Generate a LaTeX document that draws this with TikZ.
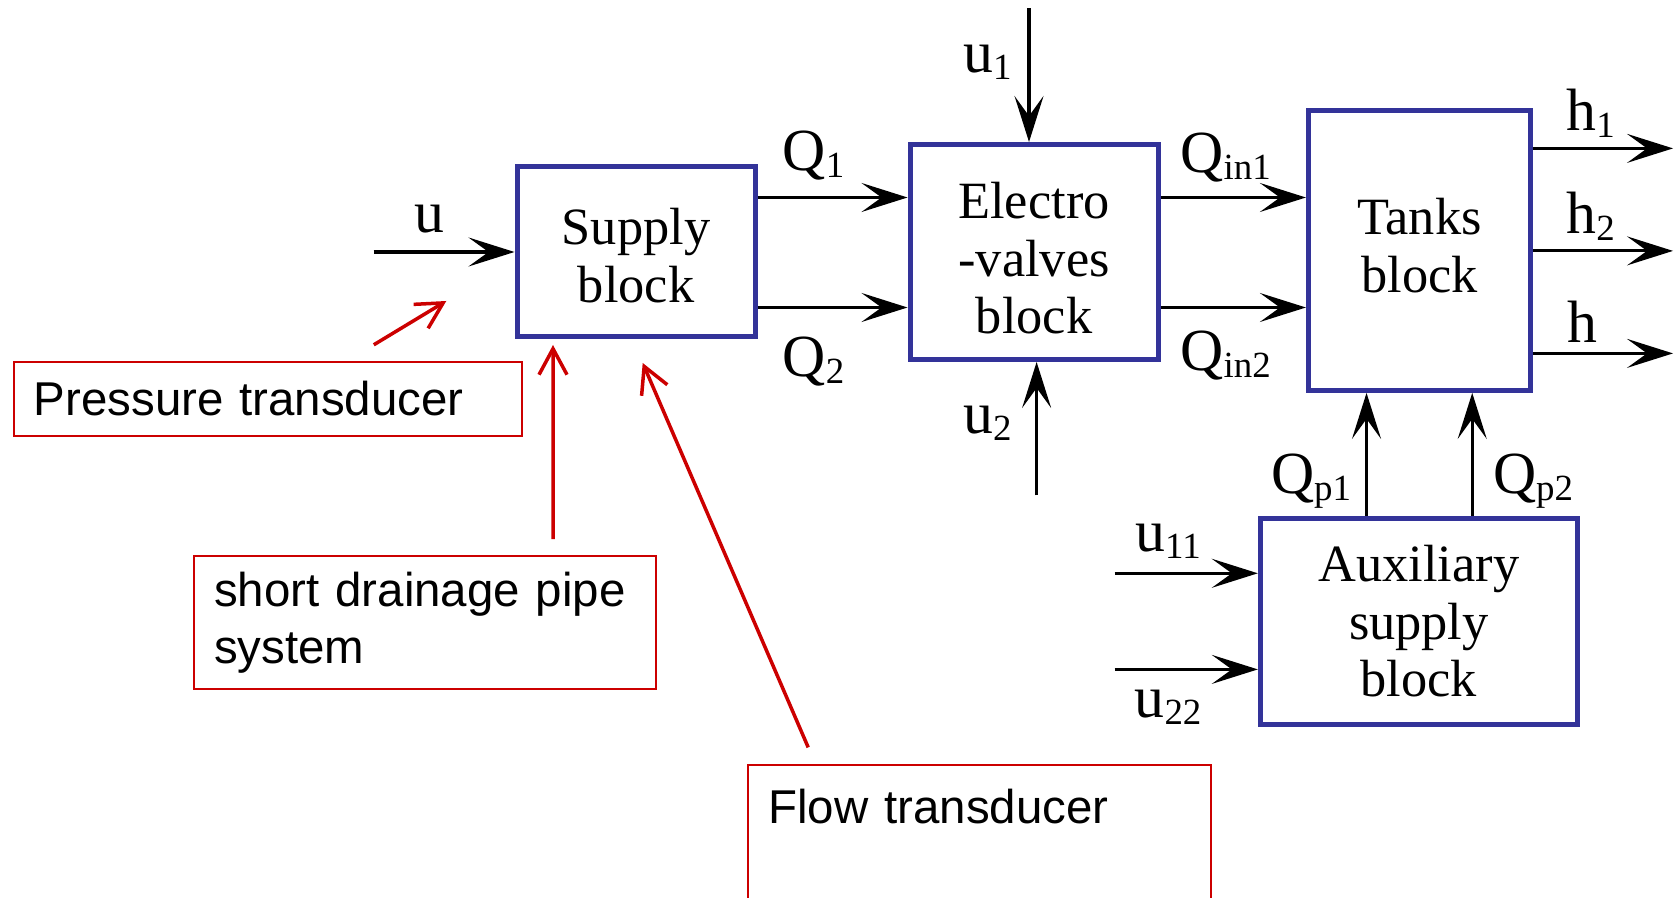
\documentclass[tikz,border=0pt]{standalone}
\usepackage{fontspec}
\setmainfont{Liberation Serif}
\newfontfamily\notesans{Liberation Sans}
\usetikzlibrary{arrows.meta,positioning}
\definecolor{blockblue}{RGB}{51,51,153}
\definecolor{notered}{RGB}{204,0,0}
\newcommand{\idx}[1]{\raisebox{-2pt}{\fontsize{10.5}{11}\selectfont #1}}

\begin{document}
\begin{tikzpicture}[
    x=0.1mm, y=-0.1mm,
    block/.style={draw=blockblue, line width=0.5mm, align=center, inner sep=0pt, font=\fontsize{14.9}{16.4}\selectfont},
    sig/.style={inner sep=0pt, font=\fontsize{17}{20}\selectfont},
    note/.style={draw=notered, line width=0.2mm, anchor=north west, align=left, inner xsep=2mm, font=\notesans\fontsize{13.5}{16.3}\selectfont},
    arrow/.style={-{Stealth[length=4.6mm, width=2.9mm, inset=2mm]}, line width=0.32mm},
    pointer/.style={-{Straight Barb[length=2.6mm, width=2.8mm]}, draw=notered, line width=0.35mm}
]
\useasboundingbox (0,0) rectangle (1674,898);

% blocks
\node[block, minimum width=23.8mm, minimum height=17mm] (supply) at (636,252) {\rule{0pt}{4.35mm}Supply\\block};
\node[block, minimum width=24.8mm, minimum height=21.5mm] (valves) at (1034,252) {\rule{0pt}{4.9mm}Electro\\-valves\\block};
\node[block, minimum width=22.2mm, minimum height=28mm] (tanks) at (1419.4,250.4) {Tanks\\block\rule[-0.96mm]{0pt}{0.96mm}};
\node[block, minimum width=31.7mm, minimum height=20.65mm] (aux) at (1418.8,621.3) {Auxiliary\\supply\\block};

% free ends
\coordinate (uin) at (373.7,252);
\coordinate (u1in) at (1029,8.5);
\coordinate (u2in) at (1036.6,495.4);
\coordinate (h1out) at (1673,148.4);
\coordinate (h2out) at (1673,250.9);
\coordinate (hout) at (1673,353.4);
\coordinate (u11in) at (1114.6,573.3);
\coordinate (u22in) at (1114.6,669.4);

% signals
\draw[arrow] (uin) -- (supply.west |- uin);
\draw[arrow] (supply.east |- 0,197.5) -- (valves.west |- 0,197.5);
\draw[arrow] (supply.east |- 0,307.5) -- (valves.west |- 0,307.5);
\draw[arrow] (u1in) -- (u1in |- valves.north);
\draw[arrow] (u2in) -- (u2in |- valves.south);
\draw[arrow] (valves.east |- 0,197.5) -- (tanks.west |- 0,197.5);
\draw[arrow] (valves.east |- 0,307.5) -- (tanks.west |- 0,307.5);
\draw[arrow] (tanks.east |- h1out) -- (h1out);
\draw[arrow] (tanks.east |- h2out) -- (h2out);
\draw[arrow] (tanks.east |- hout) -- (hout);
\draw[arrow] (aux.north -| 1366.5,0) -- (tanks.south -| 1366.5,0);
\draw[arrow] (aux.north -| 1472.2,0) -- (tanks.south -| 1472.2,0);
\draw[arrow] (u11in) -- (aux.west |- u11in);
\draw[arrow] (u22in) -- (aux.west |- u22in);

% signal labels
\node[sig] (lu) at (429,219) {u};
\node[sig] (lq1) at (813.5,156) {Q\idx{1}};
\node[sig] (lq2) at (813.5,362) {Q\idx{2}};
\node[sig] (lu1) at (987.5,62) {u\idx{1}};
\node[sig] (lu2) at (987.5,423) {u\idx{2}};
\node[sig] (lqin1) at (1225.6,158) {Q\idx{in1}};
\node[sig] (lqin2) at (1225.6,356) {Q\idx{in2}};
\node[sig] (lh1) at (1590.7,113) {h\idx{1}};
\node[sig] (lh2) at (1590.7,216) {h\idx{2}};
\node[sig] (lh) at (1582,322) {h};
\node[sig] (lqp1) at (1311,481) {Q\idx{p1}};
\node[sig] (lqp2) at (1533,481) {Q\idx{p2}};
\node[sig] (lu11) at (1168,541) {u\idx{11}};
\node[sig] (lu22) at (1168,707) {u\idx{22}};

% transducer notes
\node[note, text width=46.8mm, minimum height=7.4mm] (press) at (12.8,360.8) {Pressure transducer};
\node[note, text width=42.2mm, minimum height=13.25mm] (drain) at (193.2,555.2) {short drainage pipe\\system};
\node[note, text width=42.3mm, inner ysep=2mm, text height=3.8mm, text depth=14mm] (flow) at (747.3,764.4) {Flow transducer};

\coordinate (ptip) at (446.3,301);
\coordinate (dtip) at (553,345);
\coordinate (ftip) at (642.7,363);
\draw[pointer] (press.north west) ++(361,-16) -- (ptip);
\draw[pointer] (drain.north west) ++(359.8,-16) -- (dtip);
\draw[pointer] (flow.north west) ++(60.9,-17) -- (ftip);
\end{tikzpicture}
\end{document}
